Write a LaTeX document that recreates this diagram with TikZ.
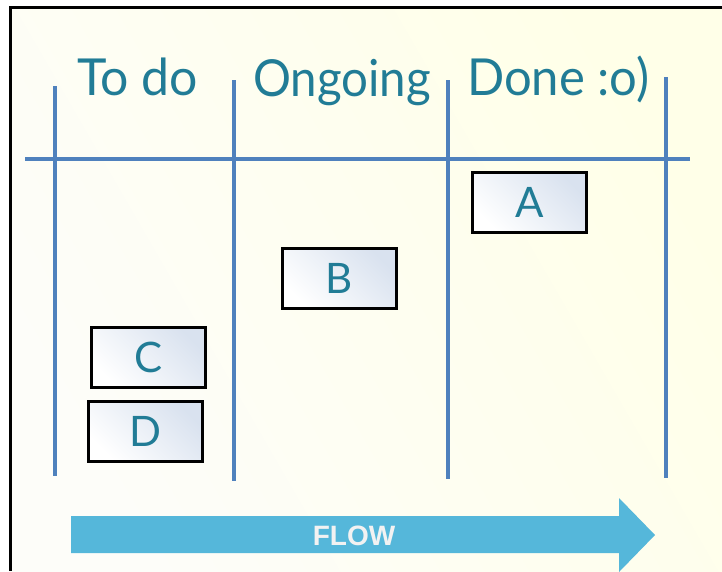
\documentclass[tikz,border=0pt]{standalone}
\usepackage{fontspec}
\setmainfont{Lato}
\newfontfamily\flowfont{Liberation Sans}
\usepackage{graphicx}
\definecolor{paperA}{HTML}{FDFDF9}
\definecolor{paperB}{HTML}{FFFFE8}
\definecolor{gridblue}{HTML}{4F81BD}
\definecolor{inkteal}{HTML}{217C96}
\definecolor{cardlight}{HTML}{FFFFFF}
\definecolor{carddark}{HTML}{D9E2EF}
\definecolor{flowblue}{HTML}{55B7DA}
\definecolor{flowtext}{HTML}{F2F2F2}
\begin{document}
\begin{tikzpicture}[x=1pt,y=-1pt,
  gridline/.style={draw=gridblue,line width=4pt},
  heading/.style={anchor=base west,inner sep=0pt,text=inkteal,font=\fontsize{51}{51}\selectfont},
  card/.style={draw=black,line width=2.5pt,minimum width=114pt,minimum height=60pt,
    anchor=north west,inner sep=0pt,left color=cardlight,right color=carddark,shading angle=135,
    text=inkteal,font=\fontsize{42}{42}\selectfont}]
  \useasboundingbox (0,0) rectangle (722,571);
  % paper background with frame on the left and top
  \shade[left color=paperA,right color=paperB,shading angle=120] (10,7) rectangle (722,571);
  \draw[line width=3pt] (10.5,571) -- (10.5,7.5) -- (722,7.5);
  % board grid
  \draw[gridline] (25,159) -- (690,159);
  \draw[gridline] (55,86) -- (55,476);
  \draw[gridline] (234,80) -- (234,481);
  \draw[gridline] (448,80) -- (448,479);
  \draw[gridline] (666,77) -- (666,478);
  % column headings
  \node[heading] (todo) at (77,95) {\scalebox{0.98}[1]{To do}};
  \node[heading] (ongoing) at (253,96) {\scalebox{0.93}[1]{Ongoing}};
  \node[heading] (done) at (467,95) {\scalebox{0.96}[1]{Done :o)}};
  % task cards
  \node[card] (A) at (471,171) {A};
  \node[card] (B) at (281,247) {B};
  \node[card] (C) at (90,326) {C};
  \node[card] (D) at (87,400) {D};
  % flow arrow
  \fill[flowblue] (71,516) -- (619,516) -- (619,498) -- (655,535) -- (619,572) -- (619,553) -- (71,553) -- cycle;
  \node[text=flowtext,font=\flowfont\bfseries\fontsize{28}{28}\selectfont,inner sep=0pt] (flow) at (354,536) {FLOW};
\end{tikzpicture}
\end{document}
